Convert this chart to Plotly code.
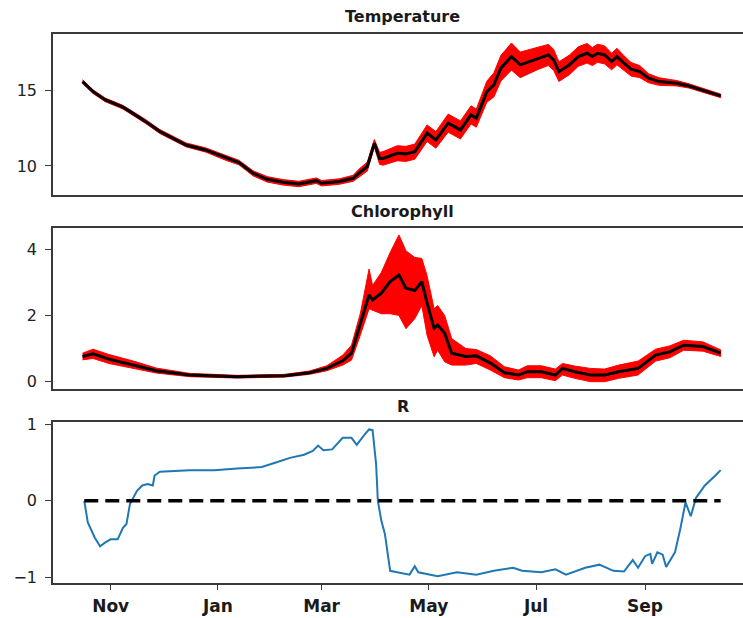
import plotly.graph_objects as go
from plotly.subplots import make_subplots

# ---- Temperature: daily mean and half-width of the spread ----
temp_dates = [
    "2018-10-16", "2018-10-22", "2018-10-29", "2018-11-08", "2018-11-15", "2018-11-21",
    "2018-11-29", "2018-12-06", "2018-12-14", "2018-12-25", "2019-01-06", "2019-01-13",
    "2019-01-21", "2019-01-29", "2019-02-07", "2019-02-16", "2019-02-26", "2019-03-01",
    "2019-03-11", "2019-03-19", "2019-03-22", "2019-03-27", "2019-03-31", "2019-04-03",
    "2019-04-05", "2019-04-13", "2019-04-18", "2019-04-23", "2019-04-30", "2019-05-05",
    "2019-05-12", "2019-05-19", "2019-05-25", "2019-05-28", "2019-06-03", "2019-06-07",
    "2019-06-11", "2019-06-17", "2019-06-22", "2019-06-27", "2019-07-02", "2019-07-08",
    "2019-07-11", "2019-07-14", "2019-07-20", "2019-07-25", "2019-07-30", "2019-08-02",
    "2019-08-05", "2019-08-09", "2019-08-13", "2019-08-16", "2019-08-20", "2019-08-24",
    "2019-08-29", "2019-09-03", "2019-09-09", "2019-09-19", "2019-09-26", "2019-10-06",
    "2019-10-14",
]
temp_mean = [
    15.6, 14.93, 14.38, 13.9, 13.39, 12.94,
    12.28, 11.84, 11.39, 11.06, 10.5, 10.22,
    9.51, 9.11, 8.91, 8.8, 9.02, 8.85,
    8.96, 9.18, 9.51, 9.96, 11.5, 10.5,
    10.5, 10.84, 10.8, 10.95, 12.17, 11.73,
    12.84, 12.39, 13.39, 13.17, 14.93, 15.38,
    16.49, 17.26, 16.71, 16.93, 17.15, 17.37,
    17.04, 16.26, 16.71, 17.26, 17.48, 17.26,
    17.48, 17.37, 16.93, 17.26, 16.82, 16.42,
    16.26, 15.82, 15.6, 15.49, 15.31, 14.93,
    14.65,
]
temp_spread = [
    0.12, 0.12, 0.12, 0.12, 0.12, 0.13,
    0.13, 0.13, 0.13, 0.14, 0.15, 0.15,
    0.17, 0.18, 0.18, 0.18, 0.18, 0.18,
    0.18, 0.2, 0.25, 0.3, 0.25, 0.4,
    0.45, 0.5, 0.5, 0.5, 0.55, 0.55,
    0.6, 0.6, 0.6, 0.6, 0.7, 0.8,
    0.85, 0.9, 0.85, 0.8, 0.75, 0.7,
    0.7, 0.65, 0.65, 0.65, 0.65, 0.6,
    0.6, 0.6, 0.55, 0.55, 0.5, 0.45,
    0.4, 0.3, 0.25, 0.18, 0.14, 0.12,
    0.12,
]

# ---- Chlorophyll: mean with lower / upper envelope ----
chl_dates = [
    "2018-10-16", "2018-10-22", "2018-10-31", "2018-11-14", "2018-11-27", "2018-12-16",
    "2019-01-12", "2019-02-08", "2019-02-22", "2019-03-04", "2019-03-13", "2019-03-18",
    "2019-03-23", "2019-03-28", "2019-03-30", "2019-04-04", "2019-04-09", "2019-04-14",
    "2019-04-18", "2019-04-23", "2019-04-27", "2019-04-30", "2019-05-04", "2019-05-06",
    "2019-05-10", "2019-05-14", "2019-05-22", "2019-05-28", "2019-06-05", "2019-06-13",
    "2019-06-21", "2019-06-26", "2019-07-04", "2019-07-12", "2019-07-16", "2019-07-23",
    "2019-08-01", "2019-08-09", "2019-08-17", "2019-08-28", "2019-09-07", "2019-09-15",
    "2019-09-23", "2019-10-04", "2019-10-14",
]
chl_mean = [
    0.76, 0.84, 0.68, 0.5, 0.33, 0.2,
    0.15, 0.18, 0.27, 0.4, 0.63, 0.86,
    1.76, 2.62, 2.47, 2.67, 3.02, 3.22,
    2.82, 2.75, 3.02, 2.37, 1.61, 1.71,
    1.46, 0.86, 0.76, 0.78, 0.56, 0.27,
    0.2, 0.3, 0.3, 0.2, 0.4, 0.3,
    0.2, 0.2, 0.3, 0.4, 0.8, 0.9,
    1.1, 1.06, 0.86,
]
chl_low = [
    0.66, 0.7, 0.55, 0.4, 0.26, 0.15,
    0.11, 0.14, 0.22, 0.33, 0.5, 0.65,
    1.4, 2.2, 2.15, 2.05, 2.05, 2.0,
    1.6, 1.9, 2.3, 1.4, 0.75, 0.95,
    0.6, 0.5, 0.5, 0.55, 0.35, 0.12,
    0.05, 0.12, 0.12, 0.03, 0.2, 0.1,
    0.0, 0.0, 0.1, 0.2, 0.62, 0.72,
    0.95, 0.92, 0.76,
]
chl_high = [
    0.86, 0.98, 0.82, 0.62, 0.41, 0.25,
    0.19, 0.22, 0.32, 0.48, 0.8, 1.1,
    2.05, 3.4, 2.9, 3.3, 3.9, 4.43,
    3.95, 3.75, 3.72, 3.2, 2.2, 2.3,
    2.0, 1.3, 1.0, 0.97, 0.78, 0.45,
    0.35, 0.48, 0.48, 0.38, 0.55, 0.47,
    0.4, 0.38, 0.5, 0.62, 0.98, 1.08,
    1.25, 1.2, 0.96,
]

# ---- Running correlation R between the two series ----
r_dates = [
    "2018-10-17", "2018-10-19", "2018-10-23", "2018-10-26", "2018-10-29", "2018-11-01",
    "2018-11-05", "2018-11-08", "2018-11-10", "2018-11-12", "2018-11-16", "2018-11-19",
    "2018-11-22", "2018-11-25", "2018-11-26", "2018-11-29", "2018-12-16", "2018-12-30",
    "2019-01-12", "2019-01-26", "2019-02-03", "2019-02-11", "2019-02-19", "2019-02-24",
    "2019-02-27", "2019-03-02", "2019-03-07", "2019-03-13", "2019-03-18", "2019-03-21",
    "2019-03-25", "2019-03-28", "2019-03-30", "2019-04-01", "2019-04-02", "2019-04-04",
    "2019-04-06", "2019-04-09", "2019-04-13", "2019-04-20", "2019-04-23", "2019-04-25",
    "2019-05-06", "2019-05-17", "2019-05-28", "2019-06-07", "2019-06-18", "2019-06-23",
    "2019-07-04", "2019-07-12", "2019-07-18", "2019-07-29", "2019-08-06", "2019-08-14",
    "2019-08-20", "2019-08-25", "2019-08-28", "2019-09-01", "2019-09-04", "2019-09-05",
    "2019-09-08", "2019-09-11", "2019-09-13", "2019-09-18", "2019-09-21", "2019-09-24",
    "2019-09-27", "2019-09-30", "2019-10-05", "2019-10-08", "2019-10-11", "2019-10-14",
]
r_values = [
    0.0, -0.28, -0.48, -0.59, -0.54, -0.5,
    -0.5, -0.35, -0.3, -0.04, 0.13, 0.2,
    0.22, 0.2, 0.33, 0.38, 0.4, 0.4,
    0.42, 0.44, 0.5, 0.56, 0.6, 0.65,
    0.72, 0.66, 0.67, 0.82, 0.82, 0.73,
    0.85, 0.93, 0.92, 0.48, 0.0, -0.26,
    -0.43, -0.91, -0.93, -0.96, -0.85, -0.93,
    -0.98, -0.93, -0.96, -0.91, -0.87, -0.91,
    -0.93, -0.89, -0.96, -0.87, -0.83, -0.91,
    -0.92, -0.77, -0.87, -0.72, -0.69, -0.82,
    -0.67, -0.7, -0.86, -0.67, -0.37, -0.02,
    -0.2, 0.04, 0.2, 0.26, 0.33, 0.4,
]

# ---- Axis labels ----
month_ticks = ["2018-11-01", "2019-01-01", "2019-03-01", "2019-05-01", "2019-07-01", "2019-09-01"]
month_labels = ["Nov", "Jan", "Mar", "May", "Jul", "Sep"]
panel_titles = ["Temperature", "Chlorophyll", "R"]

FONT = "DejaVu Sans"
AXIS_COLOR = "#3a3a3a"

fig = make_subplots(rows=3, cols=1)

# Temperature band + mean
t_hi = [m + s for m, s in zip(temp_mean, temp_spread)]
t_lo = [m - s for m, s in zip(temp_mean, temp_spread)]
fig.add_trace(go.Scatter(x=temp_dates + temp_dates[::-1], y=t_hi + t_lo[::-1],
                         fill="toself", fillcolor="#ff0000", mode="lines",
                         line=dict(color="#ff0000", width=1), showlegend=False,
                         hoverinfo="skip"), row=1, col=1)
fig.add_trace(go.Scatter(x=temp_dates, y=temp_mean, mode="lines",
                         line=dict(color="black", width=3), showlegend=False), row=1, col=1)

# Chlorophyll band + mean
fig.add_trace(go.Scatter(x=chl_dates + chl_dates[::-1], y=chl_high + chl_low[::-1],
                         fill="toself", fillcolor="#ff0000", mode="lines",
                         line=dict(color="#ff0000", width=1), showlegend=False,
                         hoverinfo="skip"), row=2, col=1)
fig.add_trace(go.Scatter(x=chl_dates, y=chl_mean, mode="lines",
                         line=dict(color="black", width=3), showlegend=False), row=2, col=1)

# R with zero reference line
fig.add_trace(go.Scatter(x=r_dates, y=r_values, mode="lines",
                         line=dict(color="#1f77b4", width=2), showlegend=False), row=3, col=1)
fig.add_trace(go.Scatter(x=[r_dates[0], r_dates[-1]], y=[0, 0], mode="lines",
                         line=dict(color="black", width=3.5, dash="14px,7px"),
                         showlegend=False), row=3, col=1)

x_range = ["2018-09-29 05:00", "2019-10-26 17:00"]
domains = [[0.6845, 0.9450], [0.3701, 0.6306], [0.0571, 0.3176]]
y_ranges = [[8.07, 18.76], [-0.23, 4.63], [-1.065, 1.03]]
y_ticks = [[10, 15], [0, 2, 4], [-1, 0, 1]]

for i in range(3):
    xa = "xaxis" if i == 0 else f"xaxis{i + 1}"
    ya = "yaxis" if i == 0 else f"yaxis{i + 1}"
    last = i == 2
    fig.layout[xa].update(
        domain=[0, 1], range=x_range, showgrid=False, zeroline=False, automargin=False,
        showline=True, mirror=True, linecolor=AXIS_COLOR, linewidth=1.5,
        tickmode="array", tickvals=month_ticks if last else [],
        ticktext=month_labels if last else [],
        ticks="outside" if last else "", ticklen=6, tickwidth=1.3, tickcolor=AXIS_COLOR,
        showticklabels=last, ticklabelstandoff=1,
        tickfont=dict(family=FONT, size=17, color="#1a1a1a", weight="bold"),
    )
    fig.layout[ya].update(
        domain=domains[i], range=y_ranges[i], showgrid=False, zeroline=False, automargin=False,
        showline=True, mirror=False, linecolor=AXIS_COLOR, linewidth=1.5,
        tickmode="array", tickvals=y_ticks[i],
        ticktext=[str(v).replace("-", "\u2212") for v in y_ticks[i]],
        ticks="outside", ticklen=6, tickwidth=1.3, tickcolor=AXIS_COLOR,
        ticklabelstandoff=5,
        tickfont=dict(family=FONT, size=16, color="#222222"),
    )

# Panel titles
title_y = [1 - 16.5 / 618, 1 - 211.5 / 618, 1 - 406.5 / 618]
for text, yy in zip(panel_titles, title_y):
    fig.add_annotation(text=f"<b>{text}</b>", xref="paper", yref="paper",
                       x=0.507, y=yy, xanchor="center", yanchor="middle",
                       showarrow=False, font=dict(family=FONT, size=16, color="#1a1a1a"))

fig.update_layout(
    width=743, height=618,
    margin=dict(l=53, r=0, t=0, b=0, autoexpand=False),
    paper_bgcolor="white", plot_bgcolor="white",
    showlegend=False,
)

fig.write_html("out.html")
